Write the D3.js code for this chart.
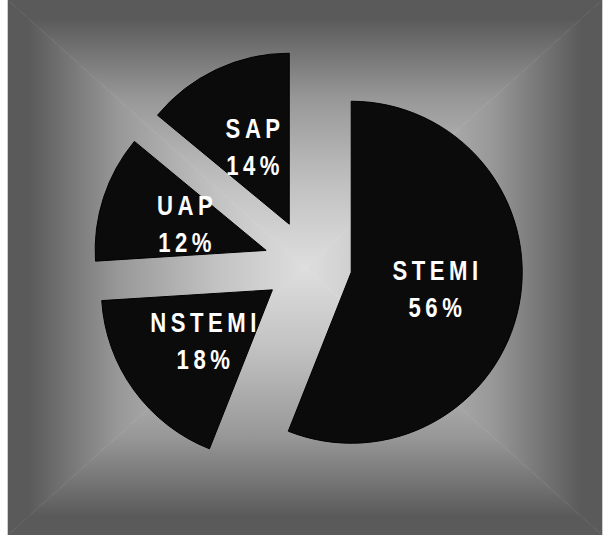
<!DOCTYPE html>
<html>
<head>
<meta charset="utf-8">
<script src="https://cdn.jsdelivr.net/npm/d3@7"></script>
<style>
  html, body { margin: 0; padding: 0; background: #ffffff; }
  svg { display: block; }
</style>
</head>
<body>
<svg id="chart" width="603" height="535"></svg>
<script>
// Share of presentations by diagnosis
const categories = ["STEMI", "NSTEMI", "UAP", "SAP"];
const percents = [56, 18, 12, 14];
const percentLabels = ["56%", "18%", "12%", "14%"];

const W = 603, H = 535;
const svg = d3.select("#chart");
const defs = svg.append("defs");

// Panel with a rectangular "from centre" grey gradient
const panel = { x: 8, y: 0, w: 594, h: 535 };
const pcx = panel.x + panel.w / 2, pcy = panel.y + panel.h / 2;
const gradStops = [
  { offset: 0,    color: "#dedede" },
  { offset: 0.3,  color: "#c2c2c2" },
  { offset: 0.63, color: "#989898" },
  { offset: 0.93, color: "#5a5a5a" },
  { offset: 1,    color: "#5a5a5a" }
];

const quads = [
  { id: "gTop",    pts: [[panel.x, panel.y], [panel.x + panel.w, panel.y], [pcx, pcy]], to: [pcx, panel.y] },
  { id: "gBottom", pts: [[panel.x, panel.y + panel.h], [panel.x + panel.w, panel.y + panel.h], [pcx, pcy]], to: [pcx, panel.y + panel.h] },
  { id: "gLeft",   pts: [[panel.x, panel.y], [panel.x, panel.y + panel.h], [pcx, pcy]], to: [panel.x, pcy] },
  { id: "gRight",  pts: [[panel.x + panel.w, panel.y], [panel.x + panel.w, panel.y + panel.h], [pcx, pcy]], to: [panel.x + panel.w, pcy] }
];
quads.forEach(q => {
  const g = defs.append("linearGradient")
    .attr("id", q.id)
    .attr("gradientUnits", "userSpaceOnUse")
    .attr("x1", pcx).attr("y1", pcy)
    .attr("x2", q.to[0]).attr("y2", q.to[1]);
  gradStops.forEach(s => g.append("stop").attr("offset", s.offset).attr("stop-color", s.color));
  svg.append("polygon")
    .attr("points", q.pts.map(p => p.join(",")).join(" "))
    .attr("fill", `url(#${q.id})`)
    .attr("stroke", `url(#${q.id})`)
    .attr("stroke-width", 0.6);
});

// Exploded pie
const cx = 308, cy = 264, radius = 171, explode = 44;
const pie = d3.pie().sort(null).startAngle(0).endAngle(2 * Math.PI);
const arcs = pie(percents);
const arc = d3.arc().innerRadius(0).outerRadius(radius);

const g = svg.append("g").attr("transform", `translate(${cx},${cy})`);

const slices = g.selectAll("g.slice")
  .data(arcs)
  .join("g")
  .attr("class", "slice")
  .attr("transform", d => {
    const mid = (d.startAngle + d.endAngle) / 2;
    return `translate(${explode * Math.sin(mid)},${-explode * Math.cos(mid)})`;
  });

slices.append("path")
  .attr("d", arc)
  .attr("fill", "#0b0b0b")
  .attr("stroke", "#000000")
  .attr("stroke-width", 1);

// Labels: name above, percentage below
const fontSize = 27, sx = 0.82, spacing = 5.5;
function label(sel, text, dy) {
  const [lx, ly] = arc.centroid(sel.datum());
  sel.append("text")
    .attr("transform", `translate(${lx},${ly + dy}) scale(${sx},1)`)
    .attr("text-anchor", "middle")
    .attr("dx", spacing / 2)
    .attr("font-family", "'Liberation Sans', Arial, sans-serif")
    .attr("font-weight", "bold")
    .attr("font-size", fontSize)
    .attr("letter-spacing", spacing)
    .attr("fill", "#ffffff")
    .text(text);
}
slices.each(function (d, i) {
  const s = d3.select(this);
  label(s, categories[i], -8.5);
  label(s, percentLabels[i], 28.5);
});
</script>
</body>
</html>
